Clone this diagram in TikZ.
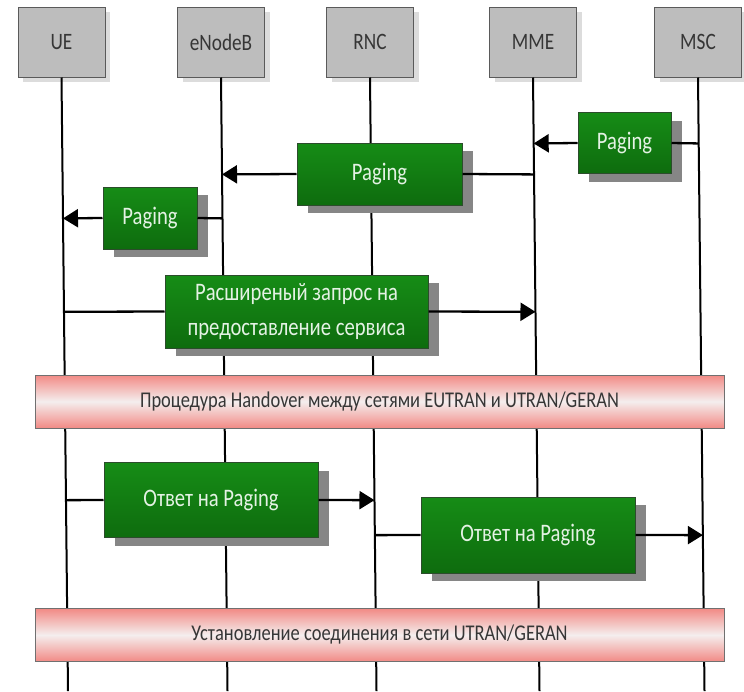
\documentclass[tikz,border=0pt]{standalone}
\usepackage{fontspec}
\setmainfont[FakeStretch=0.82]{Carlito}
\usetikzlibrary{arrows.meta,shadows,calc}
\definecolor{grn}{HTML}{168C16}
\definecolor{grnd}{HTML}{0E6C0E}
\definecolor{grnb}{HTML}{2C4C2C}
\definecolor{grntxt}{HTML}{E4F2E4}
\definecolor{hdr}{HTML}{BDBDBD}
\definecolor{hdrb}{HTML}{5A5A5A}
\definecolor{hshd}{HTML}{DCDCDC}
\definecolor{shd}{HTML}{868686}
\definecolor{pinkd}{HTML}{F28A85}
\definecolor{pinkl}{HTML}{F4EEEE}
\definecolor{bandb}{HTML}{707070}
\definecolor{txtd}{HTML}{363636}
\begin{document}
\begin{tikzpicture}[x=1pt,y=-1pt,
  hdrbox/.style={draw=hdrb, line width=1pt, fill=hdr, minimum width=87pt, minimum height=70pt, inner sep=0pt,
    font=\fontsize{23.5}{27}\selectfont, text=txtd,
    drop shadow={shadow xshift=5pt, shadow yshift=-5pt, fill=hshd, opacity=1}},
  msgbox/.style={draw=grnb, line width=1pt, top color=grn, bottom color=grnd, text=grntxt,
    font=\fontsize{25.2}{35}\selectfont, align=center, inner sep=0pt,
    drop shadow={shadow xshift=11pt, shadow yshift=-8pt, fill=shd, opacity=1}},
  band/.style={draw=bandb, line width=1pt, top color=pinkd, bottom color=pinkd, middle color=pinkl,
    minimum width=689pt, minimum height=53pt, inner sep=0pt, font=\fontsize{22.5}{26}\selectfont, text=txtd},
  life/.style={line width=2pt, black},
  msg/.style={line width=2.3pt, black},
  arr/.style={msg, -{Triangle[length=15pt,width=18pt]}}
]
\useasboundingbox (0,0) rectangle (744,691);
% headers
\node[hdrbox] (ue)  at (61.5,42) {UE};
\node[hdrbox] (enb) at (221,42) {eNodeB};
\node[hdrbox] (rnc) at (370,42) {RNC};
\node[hdrbox] (mme) at (533,42) {MME};
\node[hdrbox] (msc) at (698,42) {MSC};
% lifeline ends
\coordinate (ueB)  at (68,691);
\coordinate (enbB) at (227.5,691);
\coordinate (rncB) at (376.5,691);
\coordinate (mmeB) at (539.5,691);
\coordinate (mscB) at (704.5,691);
\foreach \n in {ue,enb,rnc,mme,msc}{
  \draw[life] (\n.south) -- (\n B);
}
% points on lifelines
\coordinate (m1s) at ($(msc.south)!{(143-77)/614}!(mscB)$);
\coordinate (m1t) at ($(mme.south)!{(143-77)/614}!(mmeB)$);
\coordinate (m2s) at ($(mme.south)!{(174-77)/614}!(mmeB)$);
\coordinate (m2t) at ($(enb.south)!{(174-77)/614}!(enbB)$);
\coordinate (m3s) at ($(enb.south)!{(218-77)/614}!(enbB)$);
\coordinate (m3t) at ($(ue.south)!{(218-77)/614}!(ueB)$);
\coordinate (m4s) at ($(ue.south)!{(311.5-77)/614}!(ueB)$);
\coordinate (m4t) at ($(mme.south)!{(311.5-77)/614}!(mmeB)$);
\coordinate (m5s) at ($(ue.south)!{(500-77)/614}!(ueB)$);
\coordinate (m5t) at ($(rnc.south)!{(500-77)/614}!(rncB)$);
\coordinate (m6s) at ($(rnc.south)!{(535-77)/614}!(rncB)$);
\coordinate (m6t) at ($(msc.south)!{(535-77)/614}!(mscB)$);
% messages
\node[msgbox, minimum width=93pt, minimum height=61pt] (m1) at (624.5,143) {Paging};
\draw[msg] (m1s) -- (m1.east);
\draw[arr] (m1.west) -- (m1t);
\node[msgbox, minimum width=165pt, minimum height=62pt] (m2) at (379.5,174) {Paging};
\draw[msg] (m2s) -- (m2.east);
\draw[arr] (m2.west) -- (m2t);
\node[msgbox, minimum width=94pt, minimum height=62pt] (m3) at (150,218) {Paging};
\draw[msg] (m3s) -- (m3.east);
\draw[arr] (m3.west) -- (m3t);
\node[msgbox, minimum width=263pt, minimum height=73pt] (m4) at (296.5,311.5) {Расширеный запрос на\\предоставление сервиса};
\draw[msg] (m4s) -- (m4.west);
\draw[arr] (m4.east) -- (m4t);
\node[band] (b1) at (379.5,401.5) {Процедура Handover между сетями EUTRAN и UTRAN/GERAN};
\node[msgbox, minimum width=214pt, minimum height=75pt] (m5) at (211,500) {Ответ на Paging};
\draw[msg] (m5s) -- (m5.west);
\draw[arr] (m5.east) -- (m5t);
\node[msgbox, minimum width=214pt, minimum height=76pt] (m6) at (528,535) {Ответ на Paging};
\draw[msg] (m6s) -- (m6.west);
\draw[arr] (m6.east) -- (m6t);
\node[band] (b2) at (379.5,635) {Установление соединения в сети UTRAN/GERAN};
\end{tikzpicture}
\end{document}
